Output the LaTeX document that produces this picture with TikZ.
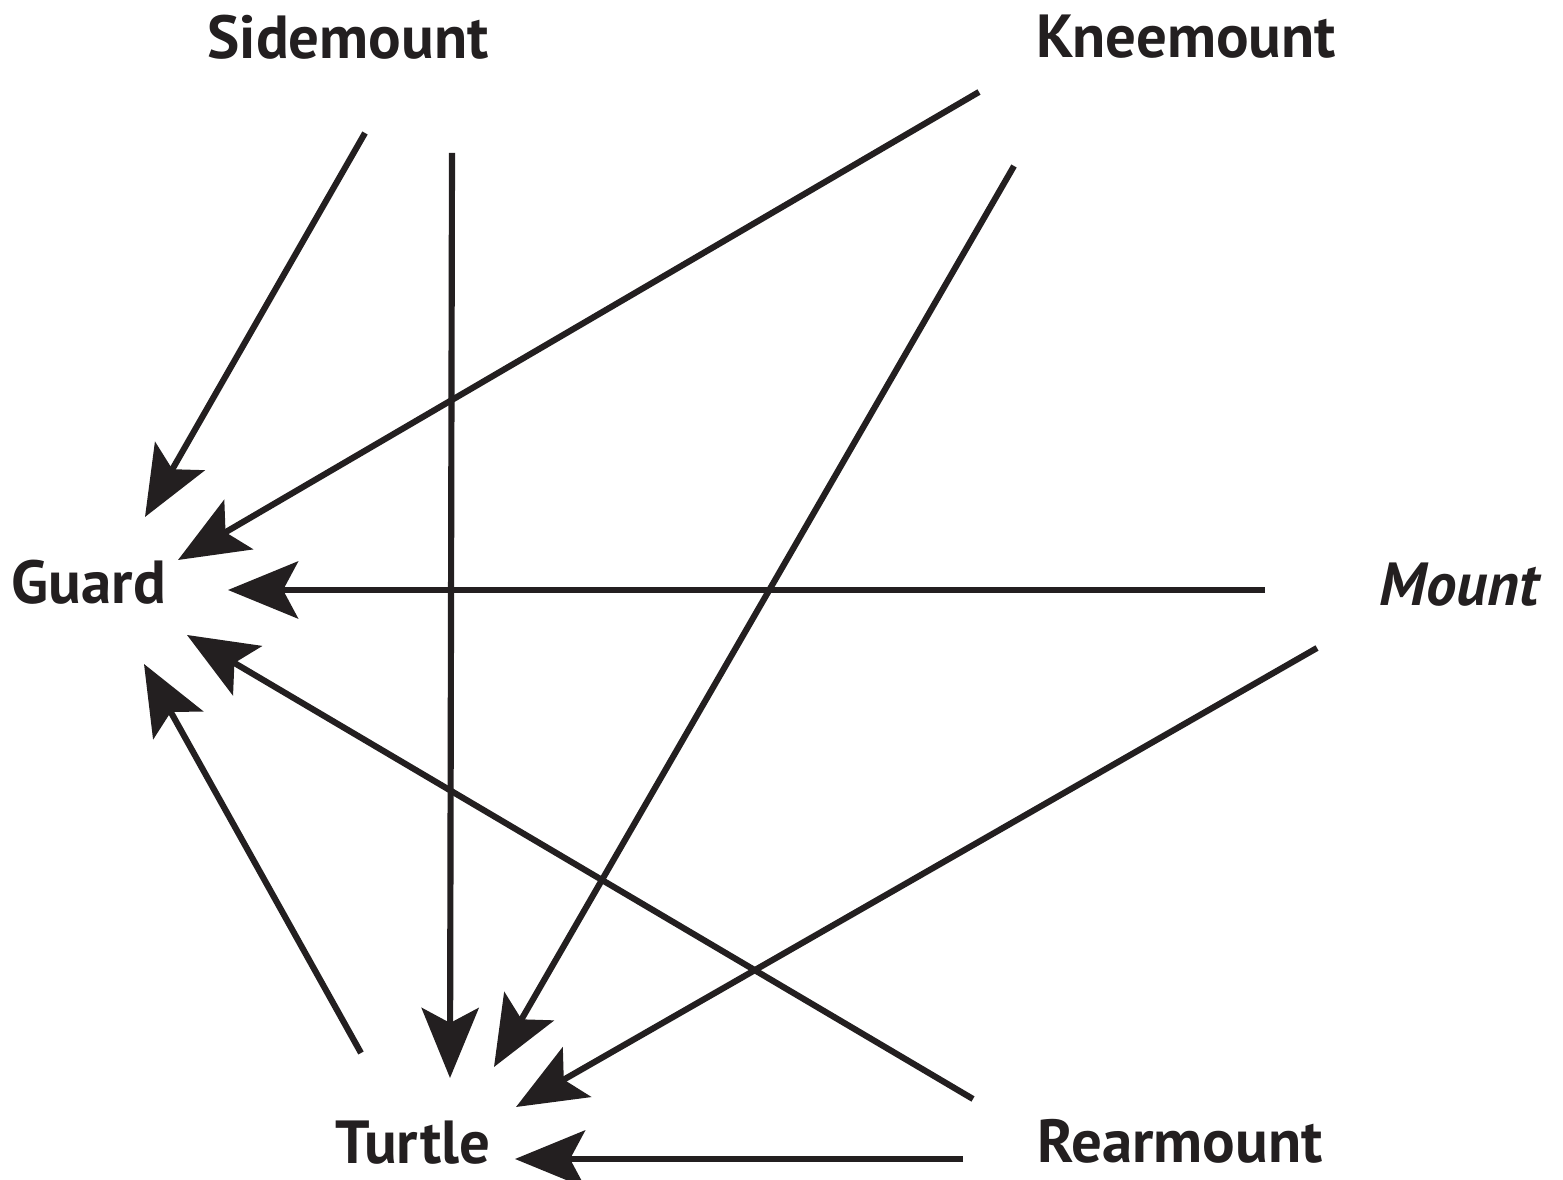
\documentclass[tikz,border=0pt]{standalone}
\usepackage{fontspec}
\setmainfont{PT Sans}
\usetikzlibrary{arrows.meta}
\usetikzlibrary{positioning}
\definecolor{ink}{HTML}{231F20}

\begin{document}
\begin{tikzpicture}[x=0.01cm, y=-0.01cm, every node/.style={font=\fontsize{17.3}{20}\selectfont\bfseries, inner sep=0pt, text=ink}, move/.style={draw=ink, line width=1.75pt, -{Stealth[length=7mm, width=5.7mm, inset=1.5mm]}}]
    \useasboundingbox (0,0) rectangle (1563,1180);
    \node (side) at (348,37) {Sidemount};
    \node (knee) at (1186,37) {Kneemount};
    \node (guard) at (89,582) {Guard};
    \node (mount) at (1459,585) {\itshape Mount};
    \node (turtle) at (413,1143) {Turtle};
    \node (rear) at (1180,1141) {Rearmount};
    \coordinate (s1) at (365,133);
    \coordinate (s2) at (452,153);
    \coordinate (k1) at (979,92);
    \coordinate (k2) at (1014,166);
    \coordinate (m1) at (1265,590);
    \coordinate (m2) at (1317,648);
    \coordinate (r1) at (973,1099);
    \coordinate (r2) at (963,1159);
    \coordinate (t1) at (361,1053);
    \coordinate (g1) at (145,517);
    \coordinate (g2) at (178,560);
    \coordinate (g3) at (228,590);
    \coordinate (g4) at (187,635);
    \coordinate (g5) at (144,664);
    \coordinate (u1) at (450,1078);
    \coordinate (u2) at (494,1067);
    \coordinate (u3) at (516,1107);
    \coordinate (u4) at (515,1159);
    \draw[move] (s1) -- (g1);
    \draw[move] (s2) -- (u1);
    \draw[move] (k1) -- (g2);
    \draw[move] (k2) -- (u2);
    \draw[move] (m1) -- (g3);
    \draw[move] (m2) -- (u3);
    \draw[move] (r1) -- (g4);
    \draw[move] (t1) -- (g5);
    \draw[move] (r2) -- (u4);
\end{tikzpicture}
\end{document}
